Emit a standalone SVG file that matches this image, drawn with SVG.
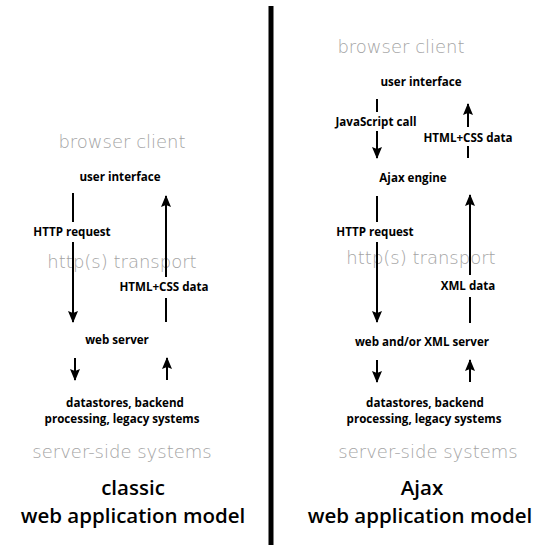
<svg xmlns="http://www.w3.org/2000/svg" width="539" height="545" viewBox="0 0 539 545">
  <style>
    .zone { font-family: "DejaVu Sans", "Open Sans", sans-serif; font-weight: 200; font-size: 18px; fill: #a4a4a4; text-anchor: middle; }
    .lbl { font-family: "Open Sans", "DejaVu Sans", sans-serif; font-weight: 700; font-size: 11.6px; fill: #000; text-anchor: middle; }
    .ttl { font-family: "Open Sans", "DejaVu Sans", sans-serif; font-weight: 600; font-size: 20.5px; fill: #000; text-anchor: middle; }
    .wire { stroke: #000; stroke-width: 2; fill: none; }
  </style>
  <defs>
    <marker id="head" viewBox="0 0 12 10" refX="11" refY="5" markerUnits="userSpaceOnUse" markerWidth="12" markerHeight="10" orient="auto">
      <path d="M0,0 L12,5 L0,10 L2,5 z" fill="#000"/>
    </marker>
  </defs>
  <rect width="539" height="545" fill="#fff"/>

  <!-- divider between the two models -->
  <line x1="271" y1="6" x2="271" y2="545" stroke="#000" stroke-width="5"/>

  <!-- zone captions -->
  <g id="zones">
    <text class="zone" x="122" y="148">browser client</text>
    <text class="zone" x="122" y="268">http(s) transport</text>
    <text class="zone" x="122" y="458">server-side systems</text>
    <text class="zone" x="401" y="53">browser client</text>
    <text class="zone" x="421" y="264">http(s) transport</text>
    <text class="zone" x="428" y="458">server-side systems</text>
  </g>

  <!-- classic model nodes -->
  <g id="classic-ui"><text class="lbl" x="120" y="181">user interface</text></g>
  <g id="classic-server"><text class="lbl" x="117" y="344">web server</text></g>
  <g id="classic-backend">
    <text class="lbl" x="125" y="407">datastores, backend</text>
    <text class="lbl" x="122" y="423">processing, legacy systems</text>
  </g>
  <g id="classic-title">
    <text class="ttl" x="133" y="495">classic</text>
    <text class="ttl" x="133" y="523">web application model</text>
  </g>

  <!-- Ajax model nodes -->
  <g id="ajax-ui"><text class="lbl" x="421" y="86">user interface</text></g>
  <g id="ajax-engine"><text class="lbl" x="413" y="182">Ajax engine</text></g>
  <g id="ajax-server"><text class="lbl" x="422" y="346">web and/or XML server</text></g>
  <g id="ajax-backend">
    <text class="lbl" x="425" y="407">datastores, backend</text>
    <text class="lbl" x="424" y="423">processing, legacy systems</text>
  </g>
  <g id="ajax-title">
    <text class="ttl" x="422" y="495">Ajax</text>
    <text class="ttl" x="420" y="523">web application model</text>
  </g>

  <!-- connectors with their labels -->
  <g id="connectors">
    <!-- classic: request down, HTML back up -->
    <line class="wire" x1="73" y1="193" x2="73" y2="222"/>
    <text class="lbl" x="72" y="236">HTTP request</text>
    <line class="wire" x1="73" y1="242" x2="73" y2="322" marker-end="url(#head)"/>
    <line class="wire" x1="166" y1="322" x2="166" y2="298"/>
    <text class="lbl" x="164" y="291">HTML+CSS data</text>
    <line class="wire" x1="166" y1="277" x2="166" y2="196" marker-end="url(#head)"/>
    <line class="wire" x1="75" y1="358" x2="75" y2="380" marker-end="url(#head)"/>
    <line class="wire" x1="167" y1="380" x2="167" y2="358" marker-end="url(#head)"/>

    <!-- Ajax: UI to engine -->
    <line class="wire" x1="377" y1="99" x2="377" y2="112"/>
    <text class="lbl" x="376" y="126">JavaScript call</text>
    <line class="wire" x1="377" y1="131" x2="377" y2="158" marker-end="url(#head)"/>
    <line class="wire" x1="468" y1="158" x2="468" y2="146"/>
    <text class="lbl" x="468" y="142">HTML+CSS data</text>
    <line class="wire" x1="468" y1="127" x2="468" y2="104" marker-end="url(#head)"/>

    <!-- Ajax: engine to server -->
    <line class="wire" x1="377" y1="196" x2="377" y2="222"/>
    <text class="lbl" x="375" y="236">HTTP request</text>
    <line class="wire" x1="377" y1="242" x2="377" y2="322" marker-end="url(#head)"/>
    <line class="wire" x1="470" y1="323" x2="470" y2="297"/>
    <text class="lbl" x="468" y="290">XML data</text>
    <line class="wire" x1="470" y1="275" x2="470" y2="195" marker-end="url(#head)"/>
    <line class="wire" x1="377" y1="360" x2="377" y2="382" marker-end="url(#head)"/>
    <line class="wire" x1="470" y1="382" x2="470" y2="360" marker-end="url(#head)"/>
  </g>
</svg>
